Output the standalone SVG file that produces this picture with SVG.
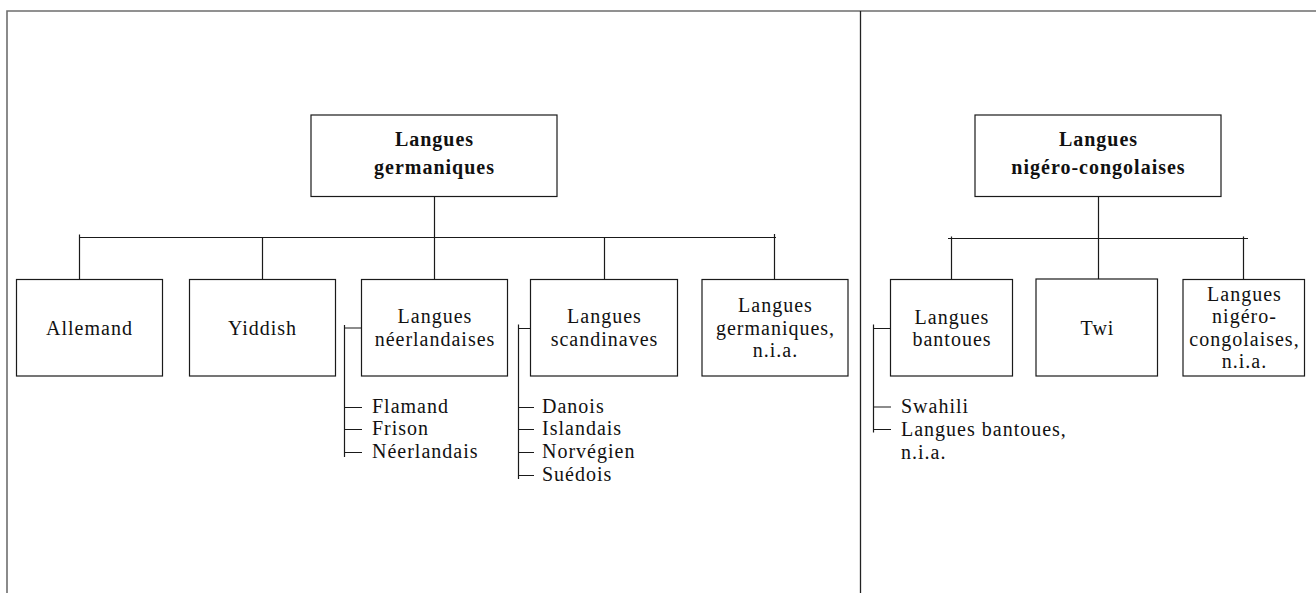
<svg xmlns="http://www.w3.org/2000/svg" width="1316" height="593" viewBox="0 0 1316 593">
<style>
.box{fill:#fff;stroke:#1a1a1a;stroke-width:1.2}
.ln{stroke:#1a1a1a;stroke-width:1.2;fill:none}
.c{text-anchor:middle}
.b{font-weight:bold}
</style>
<rect width="1316" height="593" fill="#fff"/>
<g id="frame">
<path d="M7,593 V11 H1316" fill="none" stroke="#6e6e6e" stroke-width="1.6"/>
<line x1="860.5" y1="11" x2="860.5" y2="593" stroke="#222" stroke-width="1.3"/>
</g>
<g id="connectors">
<path class="ln" d="M434.5,196 V279 M79,237.5 H776 M79.5,234.5 V279 M262.5,237.5 V279 M604.5,237.5 V279 M774.5,234 V279"/>
<path class="ln" d="M344.5,325 V457 M344.5,328 H361 M344.5,407.5 H362 M344.5,429.5 H362 M344.5,452.5 H362"/>
<path class="ln" d="M518.5,324.5 V479 M518.5,328.5 H535 M518.5,407.5 H534 M518.5,429.5 H534 M518.5,452.5 H534 M518.5,475.5 H534"/>
<path class="ln" d="M1098.5,196 V279 M948,238.5 H1248 M951.5,236.5 V279 M1243.5,236.5 V279"/>
<path class="ln" d="M873.5,324.5 V432.5 M873.5,328.5 H890 M873.5,407 H891 M873.5,429.5 H891"/>
</g>
<g font-family="Liberation Serif, Times New Roman, serif" font-size="20" letter-spacing="1" fill="#111">
<g id="n-germaniques">
<rect class="box" x="311" y="115" width="246" height="81.5"/>
<text class="c b" x="434.5" y="146">Langues</text>
<text class="c b" x="434.5" y="173.5">germaniques</text>
</g>
<g id="n-allemand">
<rect class="box" x="16.5" y="279.5" width="146" height="96.5"/>
<text class="c" x="89.5" y="335">Allemand</text>
</g>
<g id="n-yiddish">
<rect class="box" x="189.5" y="279.5" width="146" height="96.5"/>
<text class="c" x="262.5" y="335">Yiddish</text>
</g>
<g id="n-neerlandaises">
<rect class="box" x="361.5" y="279.5" width="146" height="96.5"/>
<text class="c" x="435" y="323">Langues</text>
<text class="c" x="435" y="345.5">néerlandaises</text>
</g>
<g id="n-scandinaves">
<rect class="box" x="530.5" y="279.5" width="147" height="96.5"/>
<text class="c" x="604.5" y="323">Langues</text>
<text class="c" x="604.5" y="345.5">scandinaves</text>
</g>
<g id="n-germ-nia">
<rect class="box" x="702" y="279.5" width="146" height="96.5"/>
<text class="c" x="775.5" y="312">Langues</text>
<text class="c" x="775.5" y="334.5">germaniques,</text>
<text class="c" x="775.5" y="357">n.i.a.</text>
</g>
<g id="l-neerlandaises">
<text x="372" y="413">Flamand</text>
<text x="372" y="435">Frison</text>
<text x="372" y="458">Néerlandais</text>
</g>
<g id="l-scandinaves">
<text x="542" y="413">Danois</text>
<text x="542" y="435">Islandais</text>
<text x="542" y="458">Norvégien</text>
<text x="542" y="481">Suédois</text>
</g>
<g id="n-nigero">
<rect class="box" x="975" y="115" width="246" height="81.5"/>
<text class="c b" x="1098.5" y="146">Langues</text>
<text class="c b" x="1098.5" y="173.5">nigéro-congolaises</text>
</g>
<g id="n-bantoues">
<rect class="box" x="890.5" y="279.5" width="122" height="96.5"/>
<text class="c" x="952" y="323.5">Langues</text>
<text class="c" x="952" y="345.5">bantoues</text>
</g>
<g id="n-twi">
<rect class="box" x="1036" y="279" width="121.5" height="97"/>
<text class="c" x="1097.5" y="335">Twi</text>
</g>
<g id="n-nigero-nia">
<rect class="box" x="1183" y="279.5" width="121.5" height="96.5"/>
<text class="c" x="1244.5" y="301">Langues</text>
<text class="c" x="1244.5" y="323">nigéro-</text>
<text class="c" x="1244.5" y="345.5">congolaises,</text>
<text class="c" x="1244.5" y="367.5">n.i.a.</text>
</g>
<g id="l-bantoues">
<text x="901" y="413">Swahili</text>
<text x="901" y="435.5">Langues bantoues,</text>
<text x="901" y="458.5">n.i.a.</text>
</g>
</g>
</svg>
